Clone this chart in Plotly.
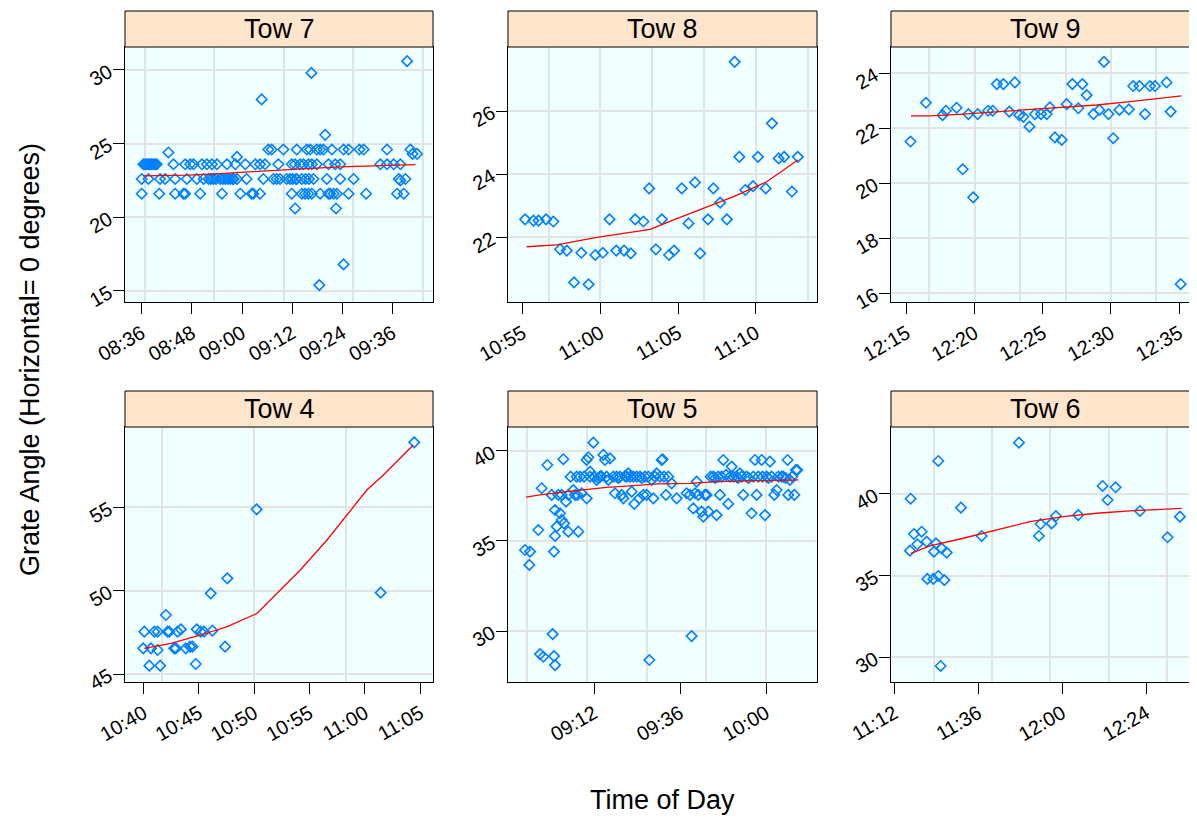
import plotly.graph_objects as go

DAY = "2000-01-01 "

# ---------------- data (time of day, grate angle) ----------------
tow7_points = [
    ("08:36:00", 21.6), ("08:40:12", 21.6), ("08:44:00", 21.6), ("08:46:00", 21.6), ("08:46:24", 21.6),
    ("08:50:00", 21.6), ("08:55:12", 21.6), ("08:59:36", 21.6), ("09:02:18", 21.6), ("09:02:42", 21.6),
    ("09:04:18", 21.6), ("09:11:54", 21.6), ("09:14:18", 21.6), ("09:15:06", 21.6), ("09:15:54", 21.6),
    ("09:16:42", 21.6), ("09:18:42", 21.6), ("09:20:42", 21.6), ("09:21:06", 21.6), ("09:21:54", 21.6),
    ("09:22:42", 21.6), ("09:25:30", 21.6), ("09:29:42", 21.6), ("09:37:06", 21.6), ("09:38:42", 21.6),
    ("08:36:00", 22.6), ("08:37:36", 22.6), ("08:40:24", 22.6), ("08:41:36", 22.6), ("08:44:00", 22.6),
    ("08:46:48", 22.6), ("08:49:12", 22.6), ("08:50:48", 22.6), ("08:52:00", 22.6), ("08:53:12", 22.6),
    ("08:54:48", 22.6), ("08:56:00", 22.6), ("08:57:12", 22.6), ("08:58:00", 22.6), ("08:58:48", 22.6),
    ("09:01:06", 22.6), ("09:05:06", 22.6), ("09:07:30", 22.6), ("09:08:18", 22.6), ("09:09:06", 22.6),
    ("09:10:42", 22.6), ("09:11:30", 22.6), ("09:13:06", 22.6), ("09:14:18", 22.6), ("09:17:06", 22.6),
    ("09:20:18", 22.6), ("09:23:30", 22.6), ("09:26:42", 22.6), ("09:37:30", 22.6), ("09:39:06", 22.6),
    ("08:52:36", 22.6), ("08:53:48", 22.6), ("08:55:24", 22.6), ("08:56:36", 22.6), ("08:57:48", 22.6),
    ("09:12:06", 22.6), ("09:12:54", 22.6), ("09:15:12", 22.6), ("09:16:00", 22.6),
    ("08:36:24", 23.6), ("08:37:12", 23.6), ("08:38:00", 23.6), ("08:38:48", 23.6), ("08:39:36", 23.6),
    ("08:36:48", 23.6), ("08:37:36", 23.6), ("08:38:24", 23.6), ("08:39:12", 23.6),
    ("08:43:36", 23.6), ("08:46:24", 23.6), ("08:47:36", 23.6), ("08:48:24", 23.6), ("08:50:24", 23.6),
    ("08:51:36", 23.6), ("08:52:48", 23.6), ("08:54:00", 23.6), ("08:56:24", 23.6), ("08:58:24", 23.6),
    ("09:00:48", 23.6), ("09:03:12", 23.6), ("09:04:18", 23.6), ("09:05:30", 23.6), ("09:08:42", 23.6),
    ("09:11:54", 23.6), ("09:12:42", 23.6), ("09:13:54", 23.6), ("09:14:42", 23.6), ("09:15:54", 23.6),
    ("09:16:42", 23.6), ("09:17:54", 23.6), ("09:20:42", 23.6), ("09:22:18", 23.6), ("09:23:30", 23.6),
    ("09:33:06", 23.6), ("09:34:42", 23.6), ("09:36:18", 23.6), ("09:37:54", 23.6),
    ("09:06:18", 24.6), ("09:07:06", 24.6), ("09:09:54", 24.6), ("09:13:06", 24.6), ("09:15:30", 24.6),
    ("09:16:18", 24.6), ("09:17:54", 24.6), ("09:18:42", 24.6), ("09:19:30", 24.6), ("09:21:30", 24.6),
    ("09:24:18", 24.6), ("09:25:30", 24.6), ("09:28:06", 24.6), ("09:29:06", 24.6), ("09:34:42", 24.6),
    ("09:40:18", 24.6),
    ("08:42:24", 24.4), ("08:58:48", 24.1), ("09:40:48", 24.3), ("09:41:54", 24.3), ("09:37:54", 22.5),
    ("09:12:42", 20.6), ("09:22:30", 20.6), ("09:19:54", 25.6), ("09:04:42", 28.0), ("09:16:36", 29.8),
    ("09:39:30", 30.6), ("09:24:18", 16.8), ("09:18:30", 15.4),
]
tow7_fit = [
    ("08:36:24", 22.81), ("08:46:48", 22.86), ("08:54:48", 22.97), ("09:05:06", 23.15),
    ("09:12:18", 23.24), ("09:15:30", 23.31), ("09:23:30", 23.42), ("09:31:30", 23.47),
    ("09:36:18", 23.54), ("09:41:30", 23.58),
]

tow8_points = [
    ("10:55:09", 22.57), ("10:55:41", 22.53), ("10:56:01", 22.53), ("10:56:30", 22.57), ("10:56:58", 22.50),
    ("10:57:24", 21.62), ("10:57:50", 21.58), ("10:58:18", 20.57), ("10:58:46", 21.51), ("10:59:14", 20.51),
    ("10:59:40", 21.44), ("11:00:09", 21.51), ("11:00:35", 22.57), ("11:01:01", 21.58), ("11:01:31", 21.58),
    ("11:01:57", 21.49), ("11:02:14", 22.57), ("11:02:46", 22.50), ("11:03:08", 23.55), ("11:03:34", 21.62),
    ("11:03:57", 22.57), ("11:04:25", 21.44), ("11:04:44", 21.58), ("11:05:14", 23.55), ("11:05:40", 22.44),
    ("11:06:05", 23.74), ("11:06:25", 21.49), ("11:06:55", 22.57), ("11:07:16", 23.55), ("11:07:42", 23.10),
    ("11:08:08", 22.57), ("11:08:38", 27.56), ("11:08:56", 24.55), ("11:09:19", 23.50), ("11:09:49", 23.62),
    ("11:10:08", 24.55), ("11:10:38", 23.55), ("11:11:02", 25.61), ("11:11:28", 24.50), ("11:11:49", 24.55),
    ("11:12:19", 23.45), ("11:12:42", 24.55),
]
tow8_fit = [
    ("10:55:15", 21.70), ("10:57:11", 21.76), ("10:59:46", 22.00), ("11:03:12", 22.25),
    ("11:04:42", 22.55), ("11:06:24", 22.87), ("11:08:34", 23.29), ("11:10:42", 23.76),
    ("11:12:42", 24.45),
]

tow9_points = [
    ("12:15:17", 21.52), ("12:16:25", 22.93), ("12:17:38", 22.48), ("12:17:53", 22.64), ("12:18:40", 22.75),
    ("12:19:07", 20.51), ("12:19:32", 22.52), ("12:19:53", 19.49), ("12:20:13", 22.52), ("12:20:59", 22.64),
    ("12:21:19", 22.64), ("12:21:37", 23.61), ("12:22:06", 23.61), ("12:22:32", 22.61), ("12:22:57", 23.67),
    ("12:23:16", 22.48), ("12:23:34", 22.42), ("12:24:01", 22.06), ("12:24:25", 22.52), ("12:24:52", 22.52),
    ("12:25:17", 22.52), ("12:25:31", 22.76), ("12:25:53", 21.67), ("12:26:23", 21.58), ("12:26:45", 22.88),
    ("12:27:10", 23.61), ("12:27:36", 22.73), ("12:27:54", 23.61), ("12:28:13", 23.21), ("12:28:43", 22.52),
    ("12:29:09", 22.67), ("12:29:29", 24.42), ("12:29:49", 22.52), ("12:30:10", 21.64), ("12:30:37", 22.67),
    ("12:31:19", 22.69), ("12:31:38", 23.54), ("12:32:05", 23.54), ("12:32:30", 22.52), ("12:32:52", 23.54),
    ("12:33:14", 23.54), ("12:34:05", 23.67), ("12:34:23", 22.61), ("12:35:07", 16.33),
]
tow9_fit = [
    ("12:15:19", 22.45), ("12:16:43", 22.45), ("12:19:10", 22.52), ("12:21:37", 22.60),
    ("12:24:04", 22.67), ("12:26:30", 22.76), ("12:28:57", 22.85), ("12:31:24", 22.97),
    ("12:33:50", 23.09), ("12:35:11", 23.18),
]

tow4_points = [
    ("10:39:58", 46.54), ("10:40:04", 47.54), ("10:40:31", 45.50), ("10:40:40", 46.54), ("10:40:58", 47.54),
    ("10:41:16", 46.44), ("10:41:30", 45.50), ("10:41:16", 47.54), ("10:42:01", 48.54), ("10:42:10", 47.54),
    ("10:42:19", 47.54), ("10:42:46", 46.54), ("10:42:55", 46.54), ("10:43:04", 47.54), ("10:43:22", 47.68),
    ("10:43:49", 46.54), ("10:44:12", 46.64), ("10:44:25", 46.64), ("10:44:43", 45.60), ("10:44:48", 47.68),
    ("10:45:10", 47.54), ("10:45:28", 47.54), ("10:46:04", 49.84), ("10:46:13", 47.60), ("10:47:22", 46.64),
    ("10:47:34", 50.74), ("10:50:13", 54.88), ("11:01:26", 49.88), ("11:04:28", 58.90),
]
tow4_fit = [
    ("10:40:04", 46.54), ("10:42:28", 46.84), ("10:45:10", 47.34), ("10:47:34", 47.84),
    ("10:50:16", 48.64), ("10:52:04", 49.84), ("10:54:10", 51.24), ("10:56:35", 53.04),
    ("10:58:23", 54.54), ("11:00:11", 56.04), ("11:01:41", 56.94), ("11:04:23", 58.74),
]

tow5_points = [
    ("08:52:45", 34.50), ("08:54:09", 34.41), ("08:53:57", 33.67), ("08:56:28", 35.61), ("08:57:24", 37.93),
    ("08:58:59", 39.22), ("08:56:56", 28.72), ("08:57:52", 28.57), ("09:00:28", 29.83), ("09:00:50", 28.61),
    ("09:01:07", 28.11), ("09:00:50", 34.41), ("09:01:07", 35.28), ("09:01:35", 35.80), ("09:01:07", 36.72),
    ("09:00:11", 37.56), ("09:02:03", 37.56), ("09:02:59", 37.56), ("09:03:27", 39.54), ("09:02:31", 36.54),
    ("09:02:59", 36.17), ("09:03:38", 35.98), ("09:04:11", 37.19), ("09:04:50", 35.52), ("09:04:50", 37.56),
    ("09:05:29", 38.57), ("09:06:14", 37.83), ("09:06:42", 37.56), ("09:07:10", 38.57), ("09:07:21", 37.56),
    ("09:07:38", 35.52), ("09:08:06", 38.57), ("09:08:34", 37.65), ("09:09:13", 38.57), ("09:09:57", 37.37),
    ("09:09:57", 39.50), ("09:10:25", 39.65), ("09:10:53", 38.57), ("09:10:53", 38.85), ("09:11:49", 40.46),
    ("09:12:00", 38.57), ("09:12:45", 38.39), ("09:13:10", 38.50), ("09:13:40", 38.57), ("09:14:00", 38.60),
    ("09:14:36", 39.78), ("09:15:04", 39.50), ("09:15:32", 38.57), ("09:16:28", 39.59), ("09:16:00", 38.39),
    ("09:17:24", 38.57), ("09:17:52", 37.65), ("09:18:19", 38.57), ("09:18:50", 38.50), ("09:19:15", 38.57),
    ("09:19:43", 37.56), ("09:20:11", 37.37), ("09:20:40", 38.60), ("09:21:07", 38.57), ("09:21:35", 38.76),
    ("09:22:03", 38.57), ("09:22:31", 37.74), ("09:22:58", 38.57), ("09:23:15", 37.06), ("09:23:54", 38.57),
    ("09:24:39", 37.37), ("09:24:50", 38.57), ("09:25:20", 38.50), ("09:25:46", 37.56), ("09:26:14", 38.57),
    ("09:26:42", 37.56), ("09:27:10", 38.57), ("09:27:26", 28.39), ("09:28:05", 38.39), ("09:28:33", 37.37),
    ("09:29:01", 38.57), ("09:29:29", 38.76), ("09:30:25", 38.57), ("09:30:53", 39.50), ("09:31:09", 39.54),
    ("09:31:32", 38.57), ("09:32:05", 37.56), ("09:32:44", 38.57), ("09:33:40", 38.20), ("09:35:04", 37.37),
    ("09:37:51", 37.65), ("09:38:47", 37.56), ("09:39:15", 29.72), ("09:39:43", 36.81), ("09:40:11", 37.65),
    ("09:40:39", 38.30), ("09:41:07", 37.56), ("09:42:02", 36.63), ("09:42:30", 36.35), ("09:42:58", 37.56),
    ("09:43:26", 37.56), ("09:43:54", 36.63), ("09:44:33", 38.57), ("09:45:18", 38.57), ("09:45:50", 38.50),
    ("09:46:13", 36.44), ("09:46:41", 38.57), ("09:47:09", 37.56), ("09:47:37", 38.57), ("09:48:05", 39.50),
    ("09:48:50", 38.67), ("09:49:29", 37.06), ("09:49:57", 38.57), ("09:50:25", 39.13), ("09:50:52", 38.57),
    ("09:51:48", 38.57), ("09:52:10", 38.50), ("09:52:44", 38.76), ("09:53:12", 38.57), ("09:53:40", 37.56),
    ("09:54:36", 38.57), ("09:55:10", 38.50), ("09:55:59", 36.54), ("09:56:27", 38.57), ("09:56:55", 39.50),
    ("09:57:23", 37.56), ("09:57:51", 38.57), ("09:58:47", 39.50), ("09:59:03", 38.57), ("09:59:43", 36.44),
    ("10:00:10", 38.57), ("10:00:40", 38.50), ("10:01:06", 39.41), ("10:01:34", 38.57), ("10:02:19", 37.56),
    ("10:02:58", 37.83), ("10:03:26", 38.57), ("10:04:22", 38.57), ("10:04:49", 38.57), ("10:05:30", 38.50),
    ("10:06:02", 39.50), ("10:06:13", 37.56), ("10:06:41", 38.39), ("10:07:20", 38.57), ("10:07:54", 37.56),
    ("10:08:21", 38.94), ("10:08:44", 38.94),
]
tow5_fit = [
    ("08:53:02", 37.43), ("08:56:56", 37.56), ("09:04:22", 37.74), ("09:09:57", 37.87),
    ("09:15:32", 37.98), ("09:22:03", 38.06), ("09:29:29", 38.17), ("09:38:47", 38.20),
    ("09:46:13", 38.30), ("09:57:23", 38.35), ("10:09:00", 38.39),
]

tow6_points = [
    ("11:16:29", 36.53), ("11:16:40", 39.71), ("11:17:37", 37.55), ("11:18:35", 36.92), ("11:19:49", 37.69),
    ("11:21:15", 37.08), ("11:21:26", 34.80), ("11:23:09", 34.80), ("11:23:21", 36.47), ("11:23:55", 36.98),
    ("11:24:35", 34.98), ("11:24:35", 42.02), ("11:25:15", 29.47), ("11:25:32", 36.67), ("11:26:18", 34.73),
    ("11:26:58", 36.41), ("11:31:04", 39.16), ("11:36:59", 37.43), ("11:47:39", 43.14), ("11:53:22", 37.43),
    ("11:53:51", 38.16), ("11:57:00", 38.20), ("11:58:14", 38.65), ("12:04:37", 38.71), ("12:11:35", 40.49),
    ("12:13:01", 39.63), ("12:15:18", 40.41), ("12:22:16", 38.96), ("12:30:10", 37.35), ("12:33:42", 38.61),
]
tow6_fit = [
    ("11:16:46", 36.37), ("11:22:12", 36.82), ("11:31:44", 37.29), ("11:41:16", 37.80),
    ("11:50:48", 38.31), ("12:00:20", 38.61), ("12:09:52", 38.82), ("12:19:24", 38.96),
    ("12:28:56", 39.08), ("12:34:11", 39.12),
]

# tick labels per panel
tow7_xticks = ["08:36", "08:48", "09:00", "09:12", "09:24", "09:36"]
tow8_xticks = ["10:55", "11:00", "11:05", "11:10"]
tow9_xticks = ["12:15", "12:20", "12:25", "12:30", "12:35"]
tow4_xticks = ["10:40", "10:45", "10:50", "10:55", "11:00", "11:05"]
tow5_xticks = ["09:12", "09:36", "10:00"]
tow6_xticks = ["11:12", "11:36", "12:00", "12:24"]
tow7_yticks = [15, 20, 25, 30]
tow8_yticks = [22, 24, 26]
tow9_yticks = [16, 18, 20, 22, 24]
tow4_yticks = [45, 50, 55]
tow5_yticks = [30, 35, 40]
tow6_yticks = [30, 35, 40]

panel_titles = ["Tow 7", "Tow 8", "Tow 9", "Tow 4", "Tow 5", "Tow 6"]

# ---------------- layout geometry ----------------
# the page body has an 8px margin, so the figure is offset by OFF and sized to the window
OFF = 8
W, H = 1197 - OFF, 818 - OFF
FONT = "Liberation Sans, Arial, Helvetica, sans-serif"
cols_px = [(125, 433), (508, 817), (891, 1200)]
rows_px = [(47, 302), (427, 682)]     # plot area top/bottom (window px)
strip_h = 36

def fx(px):
    return (px - OFF) / W

def fy(py):
    return 1 - (py - OFF) / H

panels = [
    dict(pts=tow7_points, fit=tow7_fit, xt=tow7_xticks, yt=tow7_yticks, xr=("08:32:00", "09:45:42"), yr=(14.25, 31.56), grid=1000),
    dict(pts=tow8_points, fit=tow8_fit, xt=tow8_xticks, yt=tow8_yticks, xr=("10:54:03", "11:13:56"), yr=(19.95, 28.03), grid=200),
    dict(pts=tow9_points, fit=tow9_fit, xt=tow9_xticks, yt=tow9_yticks, xr=("12:13:51", "12:36:19"), yr=(15.68, 24.96), grid=200),
    dict(pts=tow4_points, fit=tow4_fit, xt=tow4_xticks, yt=tow4_yticks, xr=("10:38:19", "11:06:10"), yr=(44.52, 59.82), grid=500),
    dict(pts=tow5_points, fit=tow5_fit, xt=tow5_xticks, yt=tow5_yticks, xr=("08:48:00", "10:14:14"), yr=(27.17, 41.33), grid=1000),
    dict(pts=tow6_points, fit=tow6_fit, xt=tow6_xticks, yt=tow6_yticks, xr=("11:11:03", "12:38:35"), yr=(28.49, 44.10), grid=1000),
]

fig = go.Figure()
layout = {}
shapes = []
annotations = []
tickfont = dict(family=FONT, size=20, color="black")

for i, p in enumerate(panels):
    n = i + 1
    r, c = divmod(i, 3)
    x0, x1 = cols_px[c]
    top, bot = rows_px[r]
    xa = "x" if n == 1 else f"x{n}"
    ya = "y" if n == 1 else f"y{n}"
    fig.add_trace(go.Scatter(
        x=[DAY + t for t, _ in p["pts"]], y=[v for _, v in p["pts"]],
        mode="markers", xaxis=xa, yaxis=ya, showlegend=False, hoverinfo="skip",
        marker=dict(symbol="diamond-open", size=8, color="#0080FF", line=dict(width=1.6, color="#0080FF")),
    ))
    fig.add_trace(go.Scatter(
        x=[DAY + t for t, _ in p["fit"]], y=[v for _, v in p["fit"]], mode="lines",
        xaxis=xa, yaxis=ya, showlegend=False, hoverinfo="skip",
        line=dict(color="red", width=1.3),
    ))
    xk = "xaxis" if n == 1 else f"xaxis{n}"
    yk = "yaxis" if n == 1 else f"yaxis{n}"
    layout[xk] = dict(
        domain=[fx(x0), min(fx(x1), 1.0)], anchor=ya, type="date",
        range=[DAY + p["xr"][0], DAY + p["xr"][1]],
        tickmode="array", tickvals=[DAY + t for t in p["xt"]], ticktext=p["xt"],
        tickangle=-30, ticks="outside", ticklen=11, tickwidth=1, tickcolor="black",
        tickfont=tickfont, showline=True, mirror=True, linecolor="black", linewidth=1,
        showgrid=False, zeroline=False, automargin=False, fixedrange=True,
        minor=dict(tickmode="linear", tick0=DAY + "00:00:00", dtick=p["grid"] * 1000,
                   showgrid=True, gridcolor="#E3E3E3", gridwidth=1.5, ticks=""),
    )
    layout[yk] = dict(
        domain=[fy(bot), fy(top)], anchor=xa, range=list(p["yr"]),
        tickmode="array", tickvals=p["yt"], ticktext=[str(v) for v in p["yt"]],
        tickangle=-30, ticks="outside", ticklen=11, tickwidth=1, tickcolor="black",
        tickfont=tickfont, showline=True, mirror=True, linecolor="black", linewidth=1,
        showgrid=True, gridcolor="#E3E3E3", gridwidth=1.5, zeroline=False,
        automargin=False, fixedrange=True,
    )
    # strip
    shapes.append(dict(type="rect", xref="paper", yref="paper",
                       x0=fx(x0), x1=fx(x1),
                       y0=fy(top), y1=fy(top - strip_h),
                       fillcolor="#FFE5CC", line=dict(color="black", width=1), layer="above"))
    annotations.append(dict(text=panel_titles[i], xref="paper", yref="paper",
                            x=fx((x0 + x1) / 2), y=fy(top - strip_h / 2),
                            xanchor="center", yanchor="middle", showarrow=False,
                            font=dict(family=FONT, size=27, color="black")))

annotations.append(dict(text="Time of Day", xref="paper", yref="paper", x=fx(662), y=fy(800),
                        xanchor="center", yanchor="middle", showarrow=False,
                        font=dict(family=FONT, size=27, color="black")))
annotations.append(dict(text="Grate Angle (Horizontal= 0 degrees)", xref="paper", yref="paper",
                        x=fx(30), y=fy(360), xanchor="center", yanchor="middle",
                        textangle=-90, showarrow=False,
                        font=dict(family=FONT, size=27, color="black")))

fig.update_layout(
    width=W, height=H, margin=dict(l=0, r=0, t=0, b=0),
    paper_bgcolor="white", plot_bgcolor="#F0FFFF",
    shapes=shapes, annotations=annotations, showlegend=False,
    **layout,
)
fig.write_html("out.html", include_plotlyjs=True, config={"displayModeBar": False})
